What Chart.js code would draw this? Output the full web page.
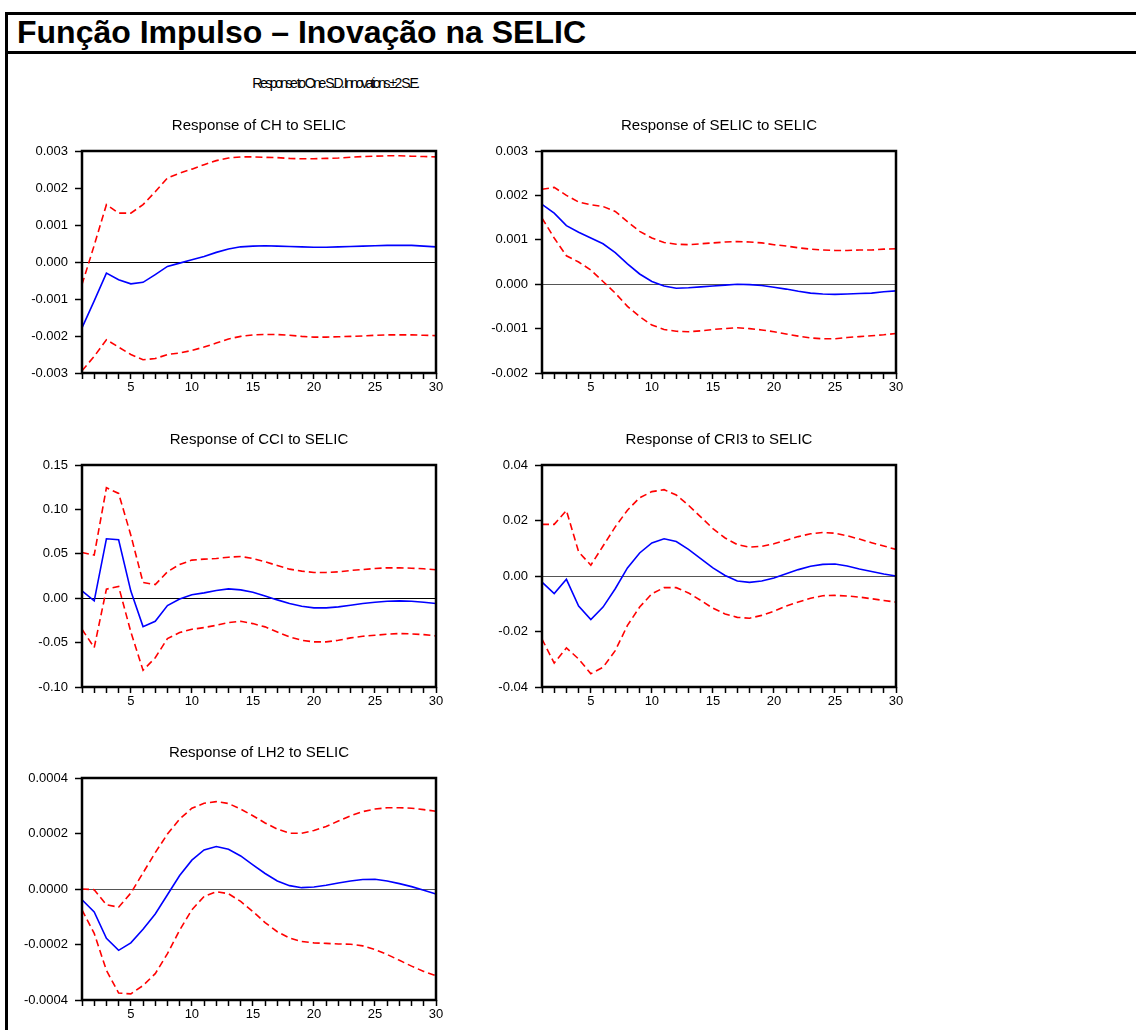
<!DOCTYPE html>
<html><head><meta charset="utf-8">
<script src="https://cdn.jsdelivr.net/npm/chart.js@4.4.0/dist/chart.umd.min.js"></script>
<style>
html,body{margin:0;padding:0;background:#fff;}
body{width:1136px;height:1030px;overflow:hidden;position:relative;font-family:"Liberation Sans",Arial,sans-serif;color:#000;}
.rule{position:absolute;background:#000;}
#title{position:absolute;left:17px;top:16px;font-weight:bold;font-size:32px;line-height:32px;white-space:nowrap;}
#subtitle{position:absolute;top:76px;left:335px;transform:translateX(-50%);font-size:14px;line-height:14px;letter-spacing:-2.5px;white-space:nowrap;}
canvas{position:absolute;}
</style>
</head><body>
<div class="rule" style="left:5px;top:12px;width:1131px;height:3px"></div>
<div class="rule" style="left:5px;top:51px;width:1131px;height:3px"></div>
<div class="rule" style="left:5px;top:12px;width:3px;height:1018px"></div>
<div id="title">Função Impulso – Inovação na SELIC</div>
<div id="subtitle">Response to One S.D. Innovations ±2 S.E.</div>
<canvas id="c1" width="460" height="300" style="left:0px;top:104px"></canvas>
<canvas id="c2" width="460" height="300" style="left:460px;top:104px"></canvas>
<canvas id="c3" width="460" height="300" style="left:0px;top:418px"></canvas>
<canvas id="c4" width="460" height="300" style="left:460px;top:418px"></canvas>
<canvas id="c5" width="460" height="300" style="left:0px;top:731px"></canvas>
<script>
// ---- data ----
const periods = [1,2,3,4,5,6,7,8,9,10,11,12,13,14,15,16,17,18,19,20,21,22,23,24,25,26,27,28,29,30];

const chTitle = "Response of CH to SELIC";
const chResp  = [-0.00178,-0.00105,-0.0003,-0.00048,-0.00059,-0.00055,-0.00034,-0.00012,-0.00003,0.00006,0.00015,0.00026,0.00035,0.00041,0.00043,0.00044,0.00043,0.00042,0.00041,0.0004,0.0004,0.00041,0.00042,0.00043,0.00044,0.00045,0.00045,0.00045,0.00043,0.00041];
const chUpper = [-0.00061,0.00045,0.00155,0.00132,0.00132,0.00155,0.0019,0.00227,0.0024,0.00251,0.00263,0.00274,0.00281,0.00284,0.00284,0.00283,0.00282,0.0028,0.00279,0.00279,0.0028,0.00281,0.00283,0.00285,0.00286,0.00287,0.00287,0.00286,0.00285,0.00284];
const chLower = [-0.00294,-0.00255,-0.0021,-0.0023,-0.0025,-0.00264,-0.00261,-0.0025,-0.00246,-0.00239,-0.0023,-0.00219,-0.00208,-0.00201,-0.00197,-0.00196,-0.00196,-0.00198,-0.00201,-0.00203,-0.00203,-0.00202,-0.00201,-0.002,-0.00198,-0.00197,-0.00197,-0.00197,-0.00198,-0.00199];
const chTicks = [-0.003,-0.002,-0.001,0.000,0.001,0.002,0.003];

const selicTitle = "Response of SELIC to SELIC";
const selicResp  = [0.0018,0.0016,0.00132,0.00117,0.00104,0.00091,0.00071,0.00046,0.00023,0.00006,-0.00004,-0.00009,-0.00008,-0.00006,-0.00004,-0.00002,0,-0.00001,-0.00003,-0.00007,-0.00011,-0.00016,-0.0002,-0.00022,-0.00023,-0.00022,-0.00021,-0.0002,-0.00017,-0.00015];
const selicUpper = [0.00214,0.00218,0.002,0.00185,0.00179,0.00175,0.00164,0.00141,0.00119,0.00104,0.00094,0.0009,0.00089,0.00091,0.00093,0.00095,0.00096,0.00095,0.00093,0.00089,0.00086,0.00082,0.00079,0.00077,0.00076,0.00076,0.00077,0.00077,0.00079,0.0008];
const selicLower = [0.00149,0.00104,0.00064,0.0005,0.00032,0.00006,-0.0002,-0.0005,-0.00073,-0.00092,-0.00102,-0.00106,-0.00107,-0.00105,-0.00102,-0.001,-0.00098,-0.001,-0.00103,-0.00107,-0.00112,-0.00117,-0.00121,-0.00123,-0.00123,-0.0012,-0.00118,-0.00116,-0.00114,-0.00111];
const selicTicks = [-0.002,-0.001,0.000,0.001,0.002,0.003];

const cciTitle = "Response of CCI to SELIC";
const cciResp  = [0.0083,-0.003,0.0669,0.0658,0.008,-0.032,-0.026,-0.0083,-0.001,0.0038,0.006,0.0086,0.0105,0.0094,0.0068,0.0026,-0.0019,-0.006,-0.009,-0.0109,-0.0109,-0.0098,-0.0079,-0.006,-0.0045,-0.0034,-0.003,-0.0034,-0.0045,-0.006];
const cciUpper = [0.0515,0.0485,0.1244,0.118,0.071,0.0177,0.0154,0.0297,0.038,0.0429,0.044,0.0447,0.0462,0.047,0.0447,0.041,0.0368,0.0327,0.0305,0.029,0.029,0.0297,0.0312,0.0323,0.0335,0.0342,0.0342,0.0338,0.0331,0.032];
const cciLower = [-0.035,-0.0556,0.0102,0.0132,-0.038,-0.0812,-0.067,-0.0455,-0.0387,-0.035,-0.0331,-0.0305,-0.0274,-0.026,-0.0286,-0.0323,-0.038,-0.0436,-0.0474,-0.0492,-0.0492,-0.0474,-0.0447,-0.0429,-0.0417,-0.0406,-0.0398,-0.0402,-0.041,-0.0425];
const cciTicks = [-0.10,-0.05,0.00,0.05,0.10,0.15];

const cri3Title = "Response of CRI3 to SELIC";
const cri3Resp  = [-0.0022,-0.0063,-0.0012,-0.0108,-0.0157,-0.0112,-0.0046,0.0029,0.0083,0.0119,0.0134,0.0124,0.0096,0.0063,0.0029,0.0002,-0.0018,-0.0023,-0.0018,-0.0007,0.0008,0.0023,0.0035,0.0042,0.0043,0.0036,0.0025,0.0016,0.0007,0];
const cri3Upper = [0.0186,0.0186,0.0236,0.0087,0.0039,0.0108,0.0177,0.0237,0.0282,0.0304,0.0311,0.0292,0.0255,0.0213,0.0171,0.0137,0.0113,0.0104,0.0107,0.0116,0.0129,0.0142,0.0152,0.0157,0.0154,0.0145,0.0133,0.012,0.0108,0.0096];
const cri3Lower = [-0.0227,-0.0314,-0.0259,-0.0299,-0.0352,-0.0329,-0.0269,-0.0178,-0.0112,-0.0064,-0.0042,-0.0042,-0.0061,-0.0088,-0.0116,-0.0137,-0.0149,-0.0152,-0.0142,-0.0127,-0.0108,-0.0094,-0.008,-0.0071,-0.007,-0.0072,-0.0076,-0.0082,-0.0088,-0.0094];
const cri3Ticks = [-0.04,-0.02,0.00,0.02,0.04];

const lh2Title = "Response of LH2 to SELIC";
const lh2Resp  = [-0.0000388,-0.0000824,-0.000178,-0.000221,-0.000194,-0.000145,-0.00009,-0.0000206,0.0000485,0.000104,0.000141,0.000153,0.000143,0.000119,0.000087,0.0000558,0.000029,0.0000121,0.0000048,0.0000073,0.0000133,0.0000218,0.000029,0.000034,0.0000352,0.000029,0.0000194,0.0000085,-0.0000048,-0.0000182];
const lh2Upper = [0,-0.0000024,-0.000057,-0.0000655,-0.0000145,0.0000582,0.000131,0.000198,0.000252,0.000291,0.000309,0.000315,0.000308,0.000288,0.000264,0.000238,0.000216,0.000201,0.000201,0.000211,0.000225,0.000245,0.000264,0.000279,0.000288,0.000293,0.000293,0.000291,0.000286,0.00028];
const lh2Lower = [-0.0000752,-0.00016,-0.000293,-0.000375,-0.000378,-0.000348,-0.000305,-0.000233,-0.000148,-0.0000752,-0.0000267,-0.0000097,-0.000017,-0.0000448,-0.0000812,-0.000121,-0.000154,-0.000177,-0.000189,-0.000194,-0.000196,-0.000198,-0.000199,-0.000205,-0.000218,-0.000236,-0.000257,-0.000278,-0.000297,-0.000313];
const lh2Ticks = [-0.0004,-0.0002,0.0000,0.0002,0.0004];

// ---- drawing ----
const FONT = "'Liberation Sans', Arial, sans-serif";

const framePlugin = {
  id: 'frame',
  beforeDatasetsDraw(chart, args, opts) {
    const {ctx, chartArea: a, scales: {y}} = chart;
    const y0 = Math.round(y.getPixelForValue(0)) + 0.5;
    ctx.save();
    ctx.strokeStyle = opts.zeroColor || '#000';
    ctx.lineWidth = 1;
    ctx.beginPath(); ctx.moveTo(a.left, y0); ctx.lineTo(a.right, y0); ctx.stroke();
    ctx.restore();
  },
  afterDraw(chart) {
    const {ctx, chartArea: a} = chart;
    ctx.save();
    ctx.strokeStyle = '#000';
    ctx.lineWidth = 2.5;
    ctx.strokeRect(a.left, a.top, a.right - a.left, a.bottom - a.top);
    ctx.restore();
  }
};

function makeChart(id, title, resp, upper, lower, ticks, decimals, zeroColor) {
  new Chart(document.getElementById(id), {
    type: 'line',
    data: {
      labels: periods,
      datasets: [
        {data: upper, borderColor: '#ff0000', borderWidth: 1.6, borderDash: [7, 4], pointRadius: 0, tension: 0, fill: false},
        {data: lower, borderColor: '#ff0000', borderWidth: 1.6, borderDash: [7, 4], pointRadius: 0, tension: 0, fill: false},
        {data: resp,  borderColor: '#0000ff', borderWidth: 1.6, pointRadius: 0, tension: 0, fill: false}
      ]
    },
    options: {
      responsive: false,
      animation: false,
      devicePixelRatio: 1,
      layout: {padding: {left: 0, right: 24, top: 0, bottom: 0}},
      plugins: {
        legend: {display: false},
        tooltip: {enabled: false},
        title: {display: true, text: title, fullSize: false, color: '#000',
                font: {family: FONT, size: 15, weight: 'normal', lineHeight: 1.2},
                padding: {top: 13, bottom: 16}},
        frame: {zeroColor: zeroColor}
      },
      scales: {
        x: {
          type: 'category',
          offset: false,
          border: {display: false},
          grid: {display: true, drawOnChartArea: false, drawTicks: true, tickLength: 6, tickColor: '#000', tickWidth: 1.5, offset: false},
          ticks: {autoSkip: false, maxRotation: 0, minRotation: 0, padding: 1, color: '#000',
                  font: {family: FONT, size: 13},
                  callback: function(v, i) { const p = periods[i]; return p % 5 === 0 ? String(p) : ''; }},
          afterFit: s => { s.height = 31; }
        },
        y: {
          min: ticks[0], max: ticks[ticks.length - 1],
          border: {display: false},
          grid: {display: true, drawOnChartArea: false, drawTicks: true, tickLength: 7, tickColor: '#000', tickWidth: 1.5},
          ticks: {stepSize: ticks[1] - ticks[0], padding: 7, color: '#000', font: {family: FONT, size: 13},
                  callback: function(v) { if (Math.abs(v) < 1e-12) v = 0; return v.toFixed(decimals); }},
          afterBuildTicks: s => { s.ticks = ticks.map(v => ({value: v})); },
          afterFit: s => { s.width = 82; }
        }
      }
    },
    plugins: [framePlugin]
  });
}

makeChart('c1', chTitle, chResp, chUpper, chLower, chTicks, 3, '#000');
makeChart('c2', selicTitle, selicResp, selicUpper, selicLower, selicTicks, 3, '#555');
makeChart('c3', cciTitle, cciResp, cciUpper, cciLower, cciTicks, 2, '#000');
makeChart('c4', cri3Title, cri3Resp, cri3Upper, cri3Lower, cri3Ticks, 2, '#555');
makeChart('c5', lh2Title, lh2Resp, lh2Upper, lh2Lower, lh2Ticks, 4, '#555');
</script>
</body></html>
